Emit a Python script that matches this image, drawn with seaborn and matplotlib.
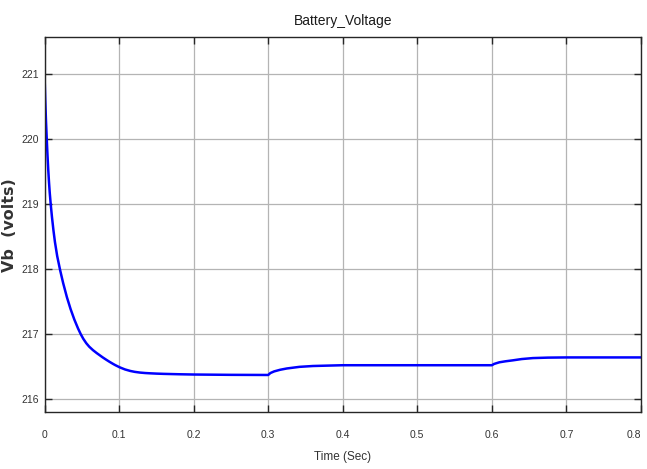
import matplotlib
matplotlib.use("Agg")
import matplotlib.pyplot as plt
import seaborn as sns
import pandas as pd

# Battery terminal voltage during the simulation run
time_s = [0.0, 0.001, 0.002, 0.003, 0.004, 0.005, 0.006, 0.007, 0.0083, 0.010,
          0.012, 0.014, 0.017, 0.021, 0.025, 0.03, 0.035, 0.04, 0.045, 0.0485,
          0.052, 0.056, 0.06, 0.065, 0.07, 0.074, 0.078, 0.083, 0.087, 0.092,
          0.095, 0.101, 0.108, 0.115, 0.121, 0.128, 0.135, 0.141, 0.15, 0.16,
          0.181, 0.2, 0.25, 0.3, 0.303, 0.308, 0.316, 0.325, 0.342, 0.36,
          0.383, 0.4, 0.5, 0.6, 0.603, 0.61, 0.618, 0.628, 0.64, 0.655,
          0.675, 0.7, 0.8]
voltage_v = [221.0, 220.60, 220.27, 220.0, 219.75, 219.53, 219.34, 219.175, 219.0, 218.80,
             218.594, 218.415, 218.2, 217.98, 217.784, 217.568, 217.383, 217.223, 217.085, 217.0,
             216.927, 216.859, 216.805, 216.752, 216.707, 216.674, 216.641, 216.603, 216.574, 216.54,
             216.521, 216.487, 216.455, 216.432, 216.418, 216.407, 216.40, 216.396, 216.391, 216.387,
             216.381, 216.377, 216.372, 216.37, 216.40, 216.425, 216.45, 216.47, 216.495, 216.508,
             216.515, 216.52, 216.52, 216.52, 216.54, 216.565, 216.58, 216.595, 216.615, 216.63,
             216.637, 216.64, 216.64]

x_ticks = [0, 0.1, 0.2, 0.3, 0.4, 0.5, 0.6, 0.7, 0.8]
x_tick_labels = ["0", "0.1", "0.2", "0.3", "0.4", "0.5", "0.6", "0.7", "0.8"]
y_ticks = [216, 217, 218, 219, 220, 221]

df = pd.DataFrame({"Time": time_s, "Vb": voltage_v})

sns.set_theme(style="whitegrid")
narrow = ["Liberation Sans Narrow", "Liberation Sans", "DejaVu Sans"]
plt.rcParams["font.family"] = narrow

fig = plt.figure(figsize=(6.47, 4.69), dpi=100)
ax = fig.add_axes([0.0688, 0.1215, 0.9219, 0.7995])

sns.lineplot(data=df, x="Time", y="Vb", ax=ax, color="#0000ff", linewidth=1.8)

ax.set_xlim(0, 0.8)
ax.set_ylim(215.8, 221.57)
ax.set_xticks(x_ticks)
ax.set_xticklabels(x_tick_labels)
ax.set_yticks(y_ticks)

ax.set_facecolor("white")
ax.grid(True, color="#b4b4b4", linewidth=0.9)
for side in ["left", "bottom", "right", "top"]:
    ax.spines[side].set_visible(True)
    ax.spines[side].set_color("#262626")
    ax.spines[side].set_linewidth(1.0)

ax.tick_params(axis="both", direction="in", length=5, width=1.0, color="#262626",
               labelsize=7.5, labelcolor="#333333", top=True, right=True,
               bottom=True, left=True)
ax.tick_params(axis="x", pad=13)
ax.tick_params(axis="y", pad=4)
# keep the last x tick label inside the canvas
ax.get_xticklabels()[-1].set_horizontalalignment("right")

ax.set_title("Battery_Voltage", fontsize=10, color="#1a1a1a", pad=9)
ax.set_xlabel("Time (Sec)", fontsize=8.5, color="#333333", labelpad=8)
ax.set_ylabel("Vb  (volts)", fontsize=11.5, color="#333333", fontweight="bold",
              family=["DejaVu Sans"])
ax.yaxis.set_label_coords(-0.046, 0.499)

fig.savefig("out.png", dpi=100, facecolor="white")
